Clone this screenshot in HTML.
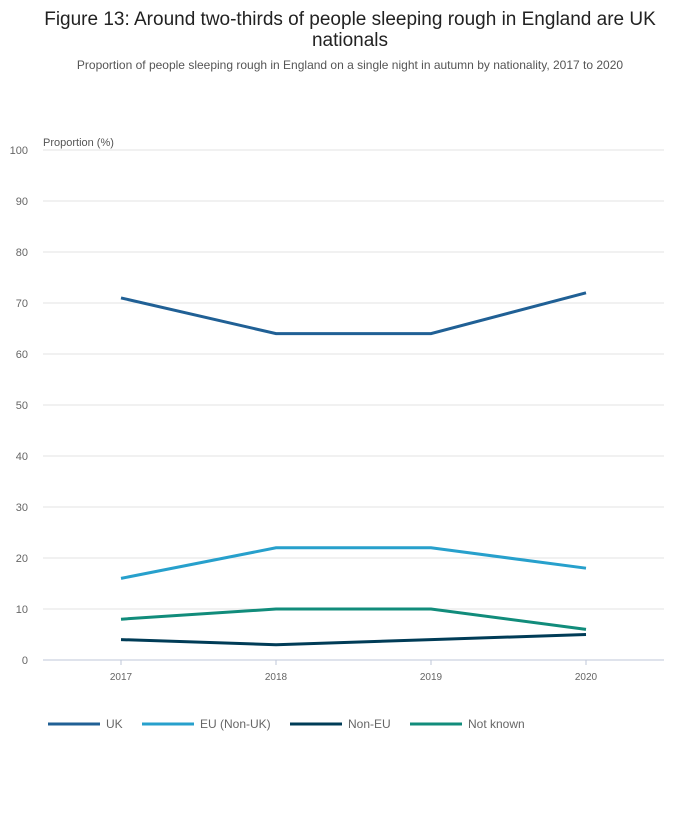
<!DOCTYPE html>
<html><head><meta charset="utf-8"><style>
body{margin:0;background:#fff;font-family:"Liberation Sans",sans-serif;}
svg text{font-family:"Liberation Sans",sans-serif;}
</style></head><body>
<svg id="chart" width="700" height="810">
<text x="350" y="25" text-anchor="middle" font-size="19" fill="#222">Figure 13: Around two-thirds of people sleeping rough in England are UK</text>
<text x="350" y="46" text-anchor="middle" font-size="19" fill="#222">nationals</text>
<text x="350" y="69" text-anchor="middle" font-size="12" fill="#555">Proportion of people sleeping rough in England on a single night in autumn by nationality, 2017 to 2020</text>
<text x="43" y="146" font-size="11" fill="#555">Proportion (%)</text>
<g id="grid"></g><g id="lines"></g><g id="legend"></g>
</svg>
<script>
const years=["2017","2018","2019","2020"];
const uk=[71,64,64,72];
const eu=[16,22,22,18];
const nonEu=[4,3,4,5];
const notKnown=[8,10,10,6];
const yTicks=[0,10,20,30,40,50,60,70,80,90,100];
const seriesNames=["UK","EU (Non-UK)","Non-EU","Not known"];
const NS="http://www.w3.org/2000/svg";
const x0=43,x1=664,yBase=660,yTop=150;
function yS(v){return yBase-(v/100)*(yBase-yTop);}
function xS(i){return 121+i*155;}
function mk(t,a,p){const e=document.createElementNS(NS,t);for(const k in a)e.setAttribute(k,a[k]);p.appendChild(e);return e;}
const grid=document.getElementById('grid');
yTicks.forEach(v=>{
  const l=mk('line',{x1:x0,x2:x1,y1:yS(v),y2:yS(v),stroke:v===0?'#bfc7d8':'#e3e3e3','stroke-width':1},grid);
  
  
  const t=mk('text',{x:28,y:yS(v)+4,'text-anchor':'end','font-size':11,fill:'#666'},grid);
  t.textContent=v;
  
  
});
years.forEach((y,i)=>{
  const l=mk('line',{x1:xS(i),x2:xS(i),y1:yBase,y2:yBase+5,stroke:'#bfc7d8'},grid);
  
  
  const t=mk('text',{x:xS(i),y:680,'text-anchor':'middle','font-size':10,fill:'#666'},grid);
  t.textContent=y;
  
  
});
const data=[uk,eu,nonEu,notKnown];
const colors=["#206095","#27a0cc","#003c57","#118c7b"];
const lines=document.getElementById('lines');
data.forEach((s,k)=>{
  const p=mk('polyline',{points:s.map((v,i)=>xS(i)+','+yS(v)).join(' '),fill:'none',stroke:colors[k],'stroke-width':3},lines);
  
  
});
const legend=document.getElementById('legend');
const lx=[48,142,290,410];
seriesNames.forEach((n,k)=>{
  const g=mk('g',{},legend);
  
  
  mk('line',{x1:lx[k],x2:lx[k]+52,y1:724,y2:724,stroke:colors[k],'stroke-width':3},g);
  const t=mk('text',{x:lx[k]+58,y:728,'font-size':12,fill:'#666'},g);
  t.textContent=n;
});
</script>
</body></html>
